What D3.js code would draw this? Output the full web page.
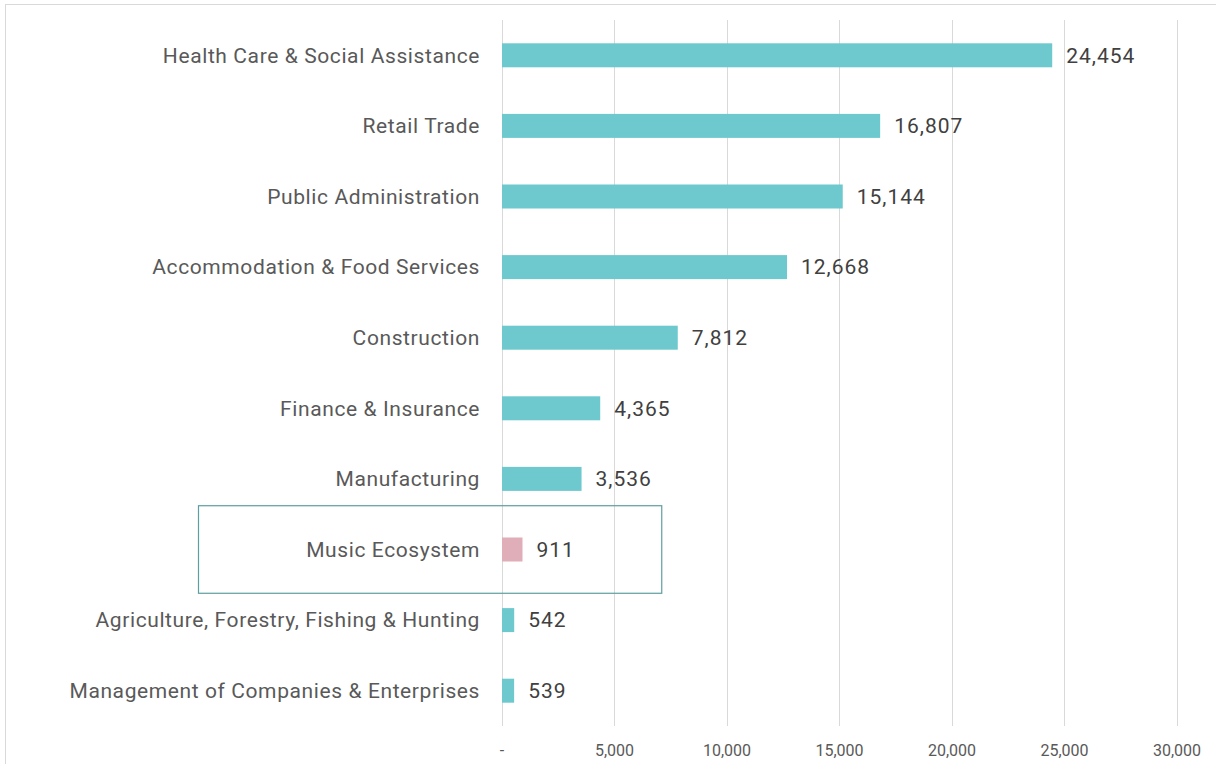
<!DOCTYPE html>
<html>
<head>
<meta charset="utf-8">
<script src="https://cdn.jsdelivr.net/npm/d3@7"></script>
<style>
  body { margin: 0; background: #fff; }
  svg { display: block; font-family: Roboto, "Noto Sans", sans-serif; }
</style>
</head>
<body>
<svg id="chart" width="1216" height="764"></svg>
<script>
// industries, top to bottom
const categories = [
  'Health Care & Social Assistance',
  'Retail Trade',
  'Public Administration',
  'Accommodation & Food Services',
  'Construction',
  'Finance & Insurance',
  'Manufacturing',
  'Music Ecosystem',
  'Agriculture, Forestry, Fishing & Hunting',
  'Management of Companies & Enterprises'
];
const values = [24454, 16807, 15144, 12668, 7812, 4365, 3536, 911, 542, 539];
const tickValues = [0, 5000, 10000, 15000, 20000, 25000, 30000];
const highlight = 'Music Ecosystem';

const svg = d3.select('#chart');
const margin = { top: 20, right: 39, bottom: 38, left: 502 };
const W = 1216, H = 764;

const x = d3.scaleLinear().domain([0, 30000]).range([margin.left, W - margin.right]);
const y = d3.scaleBand().domain(categories).range([margin.top, H - margin.bottom]).paddingInner(0.66).paddingOuter(0.33);

//外框
svg.append('rect')
  .attr('x', 5.5).attr('y', 4.5).attr('width', W + 20).attr('height', H + 20)
  .attr('fill', 'none').attr('stroke', '#d9d9d9');

//网格线
svg.append('g').selectAll('line').data(tickValues).join('line')
  .attr('x1', d => x(d)).attr('x2', d => x(d))
  .attr('y1', margin.top).attr('y2', H - margin.bottom)
  .attr('stroke', '#d9d9d9').attr('stroke-width', 1)
  .attr('shape-rendering', 'crispEdges');

//x轴刻度
const fmt = d3.format(',');
svg.append('g').selectAll('text').data(tickValues).join('text')
  .attr('x', d => x(d)).attr('y', 756)
  .attr('text-anchor', 'middle')
  .attr('font-size', 16).attr('fill', '#595959')
  .text(d => d === 0 ? '-' : fmt(d));

const data = categories.map((c, i) => ({ name: c, value: values[i] }));

//条形
svg.append('g').selectAll('rect').data(data).join('rect')
  .attr('x', x(0))
  .attr('y', d => y(d.name))
  .attr('width', d => x(d.value) - x(0))
  .attr('height', y.bandwidth())
  .attr('fill', d => d.name === highlight ? '#e0aeb8' : '#6ec9ce');

//类别标签
svg.append('g').selectAll('text').data(data).join('text')
  .attr('x', x(0) - 22)
  .attr('y', d => y(d.name) + y.bandwidth() / 2)
  .attr('dy', '0.35em')
  .attr('text-anchor', 'end')
  .attr('font-size', 21).attr('letter-spacing', 0.6).attr('fill', '#595959')
  .text(d => d.name);

//数值标签
svg.append('g').selectAll('text').data(data).join('text')
  .attr('x', d => x(d.value) + 14)
  .attr('y', d => y(d.name) + y.bandwidth() / 2)
  .attr('dy', '0.35em')
  .attr('font-size', 21).attr('letter-spacing', 1).attr('fill', '#404040')
  .text(d => fmt(d.value));

//高亮框
const step = y.step();
const cy = y(highlight) + y.bandwidth() / 2;
svg.append('rect')
  .attr('x', 198.5)
  .attr('y', cy - step * 0.62)
  .attr('width', x(7100) - 198.5)
  .attr('height', step * 1.24)
  .attr('fill', 'none')
  .attr('stroke', '#5e9ea0').attr('stroke-width', 1.2);
</script>
</body>
</html>
